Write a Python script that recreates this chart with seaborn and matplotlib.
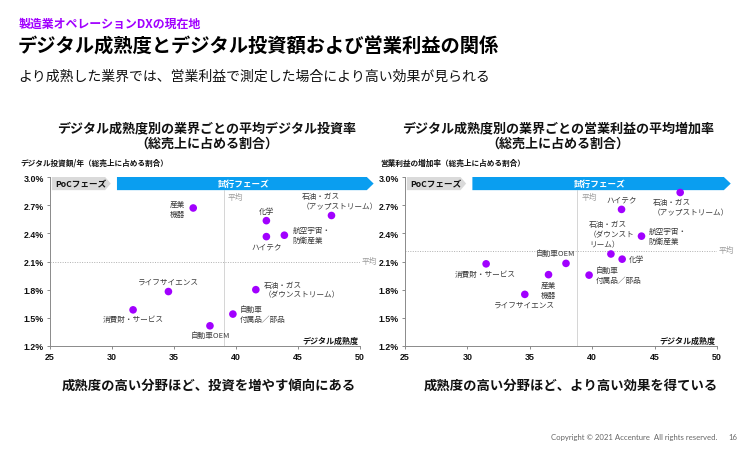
import numpy as np
import pandas as pd
import matplotlib
matplotlib.use("Agg")
import matplotlib.pyplot as plt
from matplotlib.patches import Polygon
import seaborn as sns

# ---------------- data ----------------
industries = ["産業機器", "石油・ガス（アップストリーム）", "化学", "航空宇宙・防衛産業", "ハイテク",
              "ライフサイエンス", "石油・ガス（ダウンストリーム）", "消費財・サービス",
              "自動車付属品／部品", "自動車OEM"]
maturity_invest = [36.55, 47.7, 42.45, 43.9, 42.45, 34.55, 41.6, 31.7, 39.75, 37.9]
invest_rate = [2.67, 2.59, 2.535, 2.38, 2.365, 1.78, 1.80, 1.585, 1.54, 1.415]

maturity_profit = [36.5, 47.05, 42.4, 43.95, 42.35, 34.6, 41.5, 31.5, 39.75, 37.9]
profit_rate = [1.96, 2.835, 2.125, 2.37, 2.655, 1.75, 2.18, 2.075, 1.955, 2.08]

avg_invest = (39.0, 2.10)
avg_profit = (38.8, 2.21)

x_ticks = [25, 30, 35, 40, 45, 50]
y_ticks = [1.2, 1.5, 1.8, 2.1, 2.4, 2.7, 3.0]

# label text & placement (pixel offsets, ha, va)
labels_left = {
    "産業機器": ("産業\n機器", -8, -1, "right", "center"),
    "石油・ガス（アップストリーム）": ("石油・ガス\n（アップストリーム）", -30, 5, "left", "bottom"),
    "化学": ("化学", 0, 6, "center", "bottom"),
    "航空宇宙・防衛産業": ("航空宇宙・\n防衛産業", 8, 0, "left", "center"),
    "ハイテク": ("ハイテク", 0, -6, "center", "top"),
    "ライフサイエンス": ("ライフサイエンス", 0, 6, "center", "bottom"),
    "石油・ガス（ダウンストリーム）": ("石油・ガス\n（ダウンストリーム）", 8, 0, "left", "center"),
    "消費財・サービス": ("消費財・サービス", 0, -5, "center", "top"),
    "自動車付属品／部品": ("自動車\n付属品／部品", 7, 0, "left", "center"),
    "自動車OEM": ("自動車OEM", 0, -5, "center", "top"),
}
labels_right = {
    "産業機器": ("産業\n機器", 0, -6, "center", "top"),
    "石油・ガス（アップストリーム）": ("石油・ガス\n（アップストリーム）", -27, -6, "left", "top"),
    "化学": ("化学", 7, 0, "left", "center"),
    "航空宇宙・防衛産業": ("航空宇宙・\n防衛産業", 7, 0, "left", "center"),
    "ハイテク": ("ハイテク", 0, 6, "center", "bottom"),
    "ライフサイエンス": ("ライフサイエンス", 0, -6, "center", "top"),
    "石油・ガス（ダウンストリーム）": ("石油・ガス\n（ダウンスト\nリーム）", -22, 6, "left", "bottom"),
    "消費財・サービス": ("消費財・サービス", -1, -6, "center", "top"),
    "自動車付属品／部品": ("自動車\n付属品／部品", 7, 0, "left", "center"),
    "自動車OEM": ("自動車OEM", -11, 6, "center", "bottom"),
}

df_left = pd.DataFrame({"industry": industries, "maturity": maturity_invest, "value": invest_rate})
df_right = pd.DataFrame({"industry": industries, "maturity": maturity_profit, "value": profit_rate})

# ---------------- style ----------------
sns.set_theme(style="white")
plt.rcParams['font.family'] = ['Noto Sans CJK JP', 'DejaVu Sans']

PURPLE = "#A100FF"
BLUE = "#0A9EF0"
GRAY_ARROW = "#DADADA"
LABEL_C = "#3a3a3a"

W, H = 753, 452
fig = plt.figure(figsize=(W / 100, H / 100), dpi=100)


def fx(px):
    return px / W


def fy(py):
    return 1 - py / H


# header texts
fig.text(fx(19), fy(24), "製造業オペレーションDXの現在地", color=PURPLE, fontsize=8.6,
         fontweight="bold", va="center", ha="left")
fig.text(fx(18), fy(47), "デジタル成熟度とデジタル投資額および営業利益の関係", color="black",
         fontsize=13.9, fontweight="bold", va="center", ha="left")
fig.text(fx(18), fy(77), "より成熟した業界では、営業利益で測定した場合により高い効果が見られる",
         color="#111111", fontsize=10, va="center", ha="left")


def make_panel(left_px, right_px, df, labels, avg, title, ylabel, ylab_x, title_cx, caption, cap_cx):
    top_px, bot_px = 178, 347
    ax = fig.add_axes([fx(left_px), fy(bot_px), (right_px - left_px) / W, (bot_px - top_px) / H])
    sns.scatterplot(data=df, x="maturity", y="value", ax=ax, color=PURPLE, s=30,
                    edgecolor="none", zorder=4, legend=False)
    ax.set_xlim(x_ticks[0], x_ticks[-1])
    ax.set_ylim(y_ticks[0], y_ticks[-1])
    ax.set_xticks(x_ticks)
    ax.set_yticks(y_ticks)
    ax.set_xticklabels([str(t) for t in x_ticks], fontsize=6.4, fontweight="bold",
                       family=["Liberation Sans", "DejaVu Sans"], color="#111111")
    ax.set_yticklabels([f"{t:.1f}%" for t in y_ticks], fontsize=6.4, fontweight="bold",
                       family=["Liberation Sans", "DejaVu Sans"], color="#111111")
    ax.tick_params(axis="both", length=2.5, width=0.6, color="#777777", pad=2,
                   direction="out", bottom=True, left=True)
    ax.set_xlabel("")
    ax.set_ylabel("")
    for s in ["top", "right"]:
        ax.spines[s].set_visible(False)
    for s in ["left", "bottom"]:
        ax.spines[s].set_color("#8a8a8a")
        ax.spines[s].set_linewidth(0.7)
    ax.patch.set_alpha(0)

    # average lines
    ax.plot([avg[0], avg[0]], [y_ticks[0], 2.86], color="#cfcfcf", lw=0.6, zorder=1)
    ax.plot([x_ticks[0], x_ticks[-1]], [avg[1], avg[1]], color="#b0b0b0", lw=0.7,
            ls=(0, (1, 1.5)), zorder=1)
    ax.text(avg[0] + 0.35, 2.79, "平均", fontsize=5.6, color="#9a9a9a", ha="left", va="center")
    ax.text(x_ticks[-1] + 0.1, avg[1] + 0.01, "平均", fontsize=5.6, color="#9a9a9a",
            ha="left", va="center", clip_on=False)

    # phase arrows
    y0, y1 = 2.86, 3.0
    ym = (y0 + y1) / 2
    poc = Polygon([(25.15, y1), (29.45, y1), (29.9, ym), (29.45, y0), (25.15, y0)],
                  closed=True, facecolor=GRAY_ARROW, edgecolor="none", clip_on=False, zorder=3)
    trial = Polygon([(30.4, y1), (50.55, y1), (51.1, ym), (50.55, y0), (30.4, y0)],
                    closed=True, facecolor=BLUE, edgecolor="none", clip_on=False, zorder=3)
    ax.add_patch(poc)
    ax.add_patch(trial)
    ax.text(27.45, ym, "PoCフェーズ", fontsize=6.2, fontweight="bold", color="#111111",
            ha="center", va="center", zorder=5)
    ax.text(40.6, ym, "試行フェーズ", fontsize=6.2, fontweight="bold", color="white",
            ha="center", va="center", zorder=5)

    # point labels
    for _, row in df.iterrows():
        txt, dx, dy, ha, va = labels[row["industry"]]
        ax.annotate(txt, (row["maturity"], row["value"]), xytext=(dx * 0.72, dy * 0.72),
                    textcoords="offset points", ha=ha, va=va, fontsize=5.5, color=LABEL_C,
                    linespacing=1.35, multialignment="left" if ha == "left" else "center",
                    zorder=5)

    # x-axis name inside axes
    ax.text(x_ticks[-1] - 0.1, 1.215, "デジタル成熟度", fontsize=5.8, fontweight="bold",
            color="#111111", ha="right", va="bottom")

    # titles
    fig.text(fx(title_cx), fy(128), title, fontsize=9.4, fontweight="bold", ha="center",
             va="center", color="#111111")
    fig.text(fx(title_cx), fy(144), "（総売上に占める割合）", fontsize=9.4, fontweight="bold",
             ha="center", va="center", color="#111111")
    fig.text(fx(ylab_x), fy(163), ylabel, fontsize=5.5, fontweight="bold", ha="left",
             va="center", color="#111111")
    fig.text(fx(cap_cx), fy(386), caption, fontsize=9.6, fontweight="bold", ha="center",
             va="center", color="#111111")
    return ax


make_panel(50, 360, df_left, labels_left, avg_invest,
           "デジタル成熟度別の業界ごとの平均デジタル投資率",
           "デジタル投資額/年（総売上に占める割合）", 20, 207,
           "成熟度の高い分野ほど、投資を増やす傾向にある", 209)
make_panel(405, 717, df_right, labels_right, avg_profit,
           "デジタル成熟度別の業界ごとの営業利益の平均増加率",
           "営業利益の増加率（総売上に占める割合）", 380, 558,
           "成熟度の高い分野ほど、より高い効果を得ている", 571)

fig.text(fx(717), fy(438), "Copyright © 2021 Accenture  All rights reserved.", fontsize=5.6,
         color="#666666", ha="right", va="center", family=["Lato", "DejaVu Sans"])
fig.text(fx(737), fy(438), "16", fontsize=5.6, color="#666666", ha="right", va="center",
         family=["Lato", "DejaVu Sans"])

fig.savefig("out.png", dpi=100)
